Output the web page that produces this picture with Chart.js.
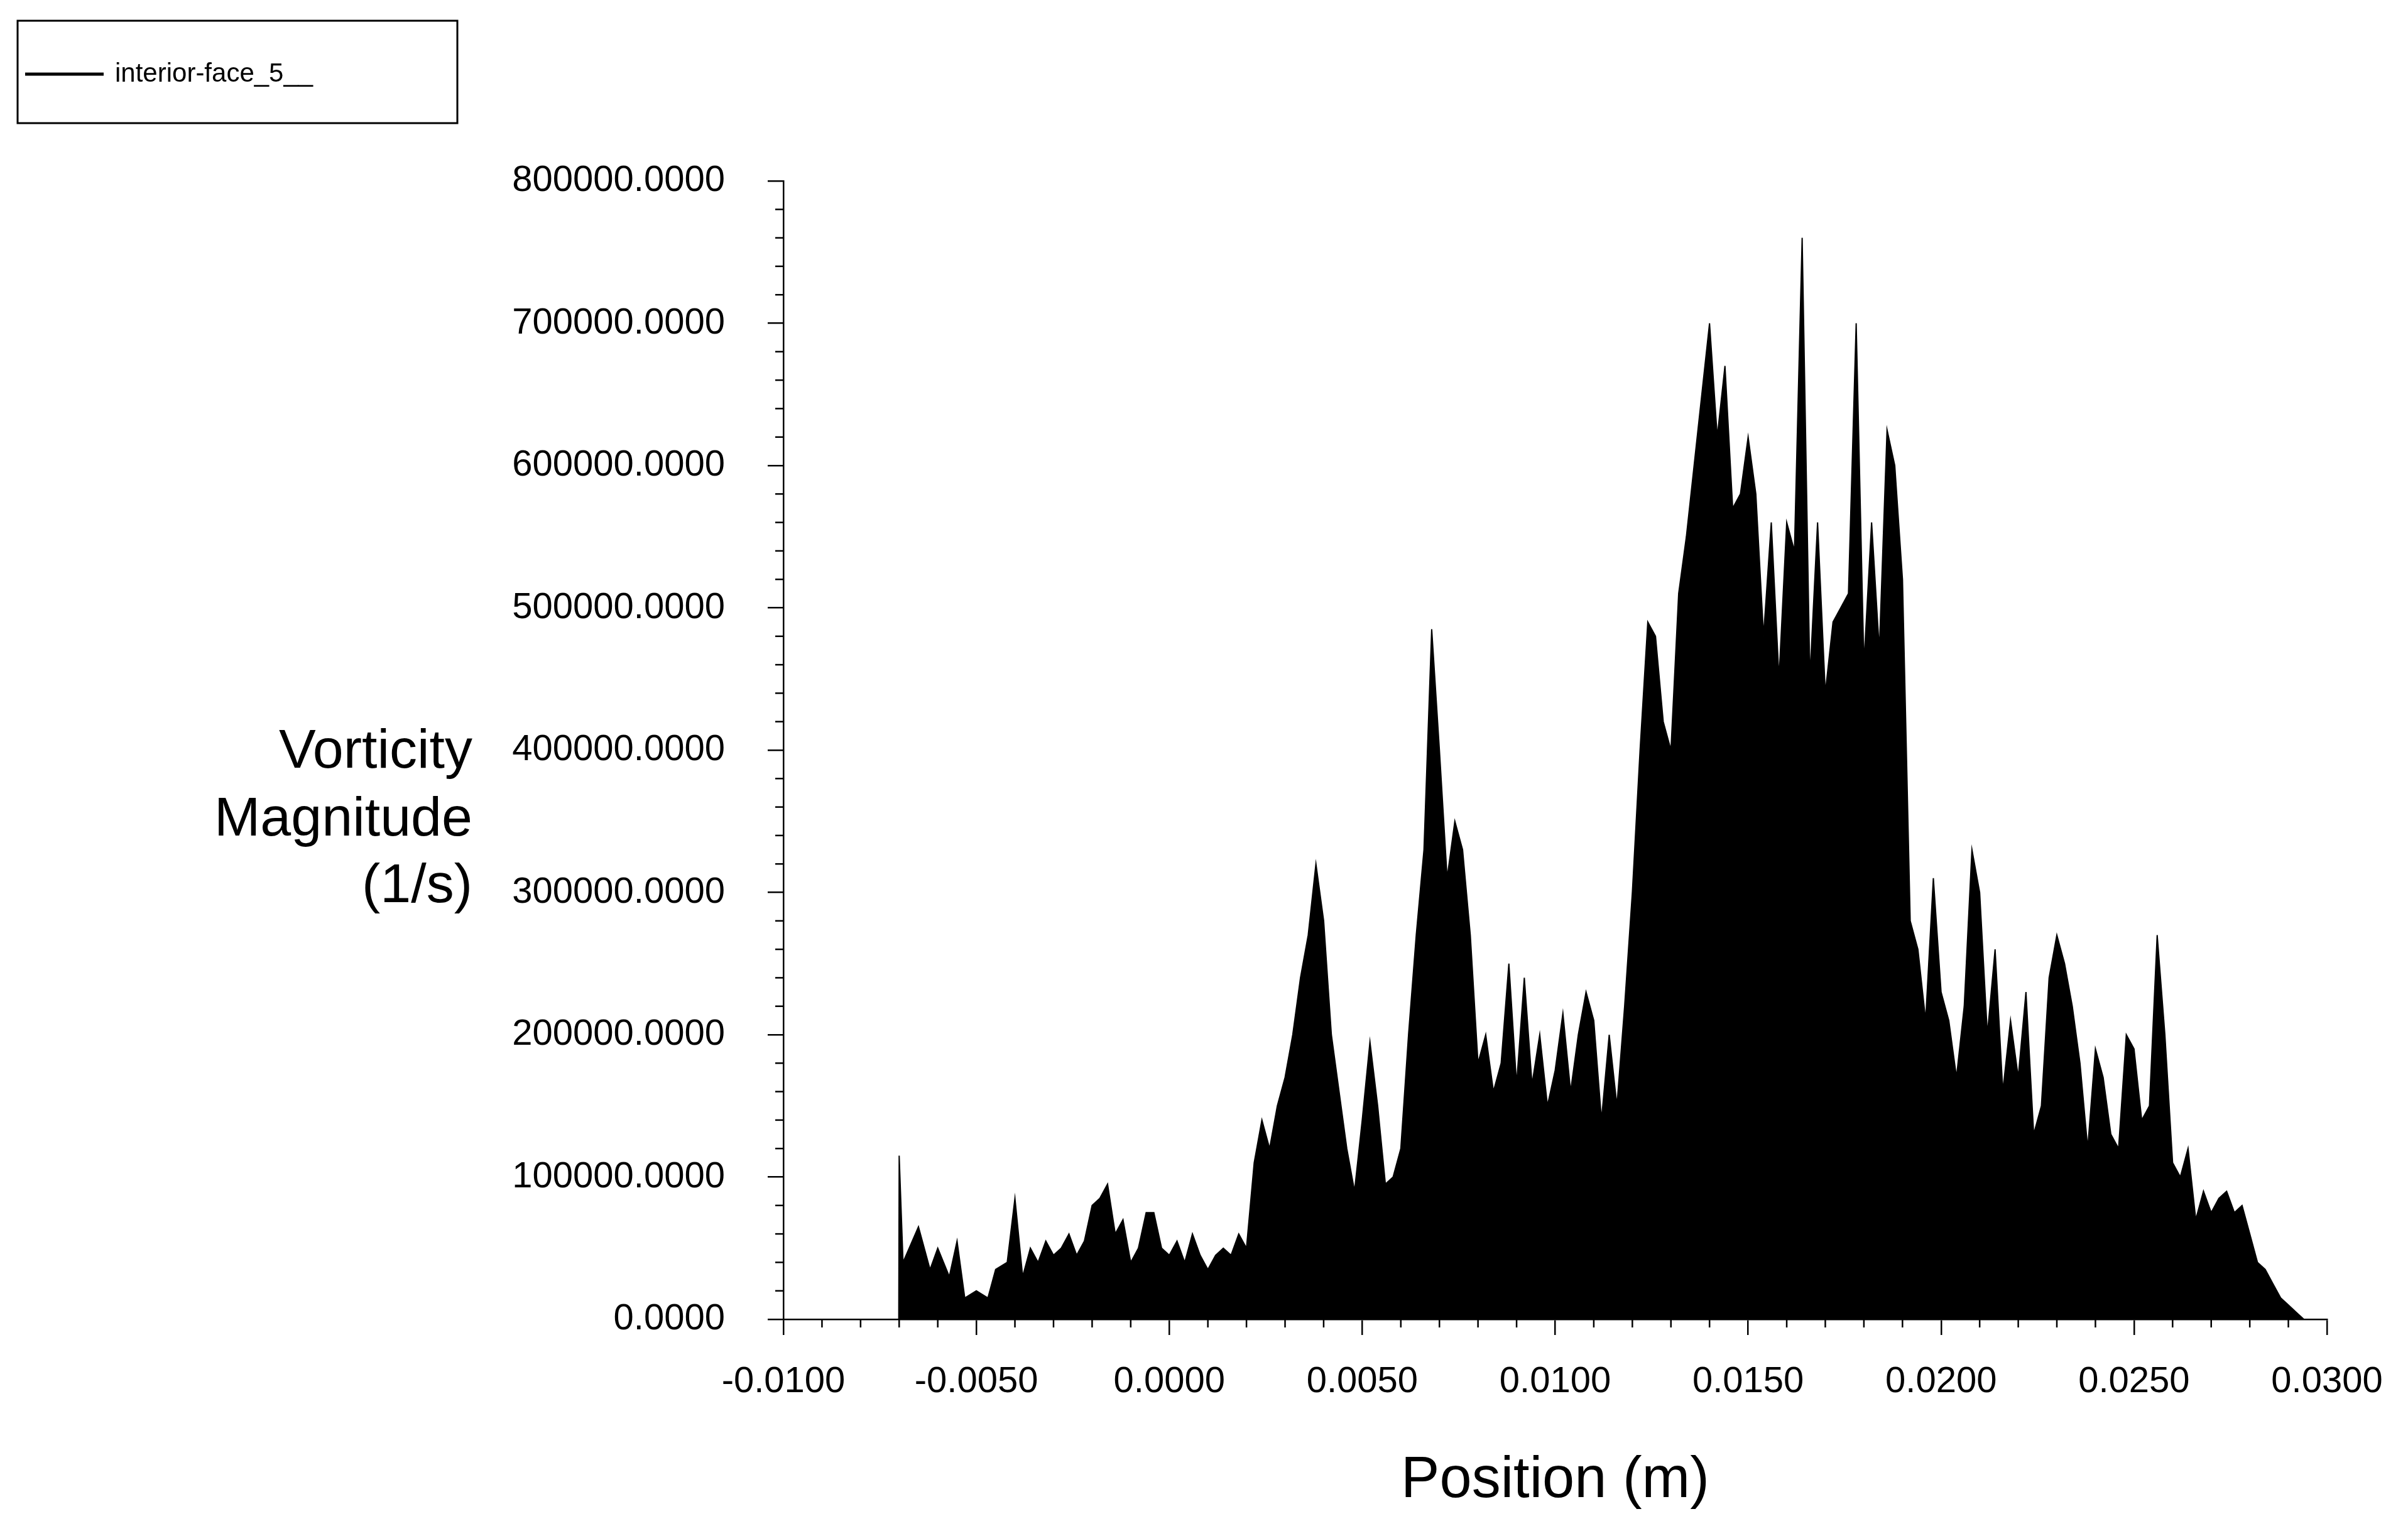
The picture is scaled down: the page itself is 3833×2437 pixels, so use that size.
<!DOCTYPE html>
<html><head><meta charset="utf-8">
<script src="https://cdn.jsdelivr.net/npm/chart.js@4"></script>
<style>html,body{margin:0;padding:0;background:#fff}#w{width:3833px;height:2437px}</style>
</head><body><div id="w"><canvas id="c"></canvas></div>
<script>
const seriesName = "interior-face_5__";
const xTitle = "Position (m)";
const yTitleLines = ["Vorticity", "Magnitude", "(1/s)"];
const positions = [-0.0100,-0.00701,-0.0070,-0.0069,-0.0065,-0.0062,-0.0060,-0.0057,-0.0055,-0.0053,-0.0050,-0.0047,-0.0045,-0.0042,-0.0040,-0.0038,-0.0036,-0.0034,-0.0032,-0.0030,-0.0028,-0.0026,-0.0024,-0.0022,-0.0020,-0.0018,-0.0016,-0.0014,-0.0012,-0.0010,-0.0008,-0.0006,-0.0004,-0.0002,0.0000,0.0002,0.0004,0.0006,0.0008,0.0010,0.0012,0.0014,0.0016,0.0018,0.0020,0.0022,0.0024,0.0026,0.0028,0.0030,0.0032,0.0034,0.0036,0.0038,0.0040,0.0042,0.0044,0.0046,0.0048,0.0050,0.0052,0.0054,0.0056,0.0058,0.0060,0.0062,0.0064,0.0066,0.0068,0.0070,0.0072,0.0074,0.0076,0.0078,0.0080,0.0082,0.0084,0.0086,0.0088,0.0090,0.0092,0.0094,0.0096,0.0098,0.0100,0.0102,0.0104,0.0106,0.0108,0.0110,0.0112,0.0114,0.0116,0.0118,0.0120,0.0122,0.0124,0.0126,0.0128,0.0130,0.0132,0.0134,0.0136,0.0138,0.0140,0.0142,0.0144,0.0146,0.0148,0.0150,0.0152,0.0154,0.0156,0.0158,0.0160,0.0162,0.0164,0.0166,0.0168,0.0170,0.0172,0.0174,0.0176,0.0178,0.0180,0.0182,0.0184,0.0186,0.0188,0.0190,0.0192,0.0194,0.0196,0.0198,0.0200,0.0202,0.0204,0.0206,0.0208,0.0210,0.0212,0.0214,0.0216,0.0218,0.0220,0.0222,0.0224,0.0226,0.0228,0.0230,0.0232,0.0234,0.0236,0.0238,0.0240,0.0242,0.0244,0.0246,0.0248,0.0250,0.0252,0.0254,0.0256,0.0258,0.0260,0.0262,0.0264,0.0266,0.0268,0.0270,0.0272,0.0274,0.0276,0.0278,0.0280,0.0282,0.0284,0.0286,0.0288,0.0290,0.0292,0.0294];
const vorticityK = [0,0,115,40,65,35,50,30,55,15,20,15,35,40,85,30,50,40,55,45,50,60,45,55,80,85,95,60,70,40,50,75,75,50,45,55,40,60,45,35,45,50,45,60,50,110,140,120,150,170,200,240,270,320,280,200,160,120,90,140,195,150,95,100,120,200,270,330,485,400,310,350,330,270,180,200,160,180,250,165,240,165,200,150,175,215,160,200,230,210,140,200,150,220,300,400,490,480,420,400,510,550,600,650,700,620,670,570,580,620,580,480,560,450,560,540,760,450,560,440,490,500,510,700,460,560,470,625,600,520,280,260,210,310,230,210,170,220,330,300,200,260,160,210,170,230,130,150,240,270,250,220,180,120,190,170,130,120,200,190,140,150,270,200,110,100,120,70,90,75,85,90,75,80,60,40,35,25,15,10,5,0];
const xTicks = {min:-0.01, max:0.03, step:0.005};
const yTicks = {min:0, max:800000, step:100000};

const pts = positions.map((x,i)=>({x:x, y:vorticityK[i]*1000}));
const FONT = "'Liberation Sans', Arial, sans-serif";

const deco = {
  id:'deco',
  afterDraw(ch){
    const c = ch.ctx, xs = ch.scales.x, ys = ch.scales.y;
    c.save();
    c.strokeStyle='#000'; c.lineWidth=2.5;
    // minor ticks
    for(let v=0; v<=800000; v+=20000){ if(v%100000===0) continue;
      const y=ys.getPixelForValue(v); c.beginPath(); c.moveTo(xs.left-13,y); c.lineTo(xs.left,y); c.stroke(); }
    for(let v=-0.01; v<=0.03001; v+=0.001){ const r=Math.round(v*1000); if(r%5===0) continue;
      const x=xs.getPixelForValue(v); c.beginPath(); c.moveTo(x,ys.bottom); c.lineTo(x,ys.bottom+13); c.stroke(); }
    // y title
    c.fillStyle='#000'; c.font='88px '+FONT; c.textAlign='right'; c.textBaseline='middle';
    const ly=[1198,1306,1412];
    yTitleLines.forEach((t,i)=>c.fillText(t,752,ly[i]));
    // x title
    c.textAlign='center'; c.font='92px '+FONT;
    c.fillText(xTitle,(xs.left+xs.right)/2,2358);
    // legend
    c.lineWidth=3; c.strokeRect(28,33,700,163);
    c.lineWidth=5; c.beginPath(); c.moveTo(40,118); c.lineTo(165,118); c.stroke();
    c.font='42px '+FONT; c.textAlign='left'; c.fillText(seriesName,183,118);
    c.restore();
  }
};

new Chart(document.getElementById('c'),{
  type:'line',
  data:{datasets:[{data:pts, borderColor:'#000', backgroundColor:'#000', borderWidth:2, pointRadius:0, fill:'origin', tension:0}]},
  options:{
    responsive:true, maintainAspectRatio:false, animation:false,
    devicePixelRatio:1,
    layout:{padding:{left:0,right:129,top:288,bottom:0}},
    plugins:{legend:{display:false},tooltip:{enabled:false}},
    scales:{
      x:{type:'linear', min:xTicks.min, max:xTicks.max,
        afterFit:s=>{s.height=337;},
        afterBuildTicks:s=>{const t=[];for(let i=0;i<=8;i++)t.push({value:+(xTicks.min+i*xTicks.step).toFixed(4)});s.ticks=t;},
        ticks:{color:'#000', font:{family:FONT,size:58}, padding:40, maxRotation:0, autoSkip:false, callback:v=>Number(v).toFixed(4)},
        grid:{drawOnChartArea:false, tickLength:25, color:'#000', lineWidth:2.5},
        border:{color:'#000', width:2.5}},
      y:{type:'linear', min:yTicks.min, max:yTicks.max,
        afterFit:s=>{s.width=1247;},
        ticks:{stepSize:yTicks.step, color:'#000', font:{family:FONT,size:58}, padding:68, callback:v=>Number(v).toFixed(4)},
        grid:{drawOnChartArea:false, tickLength:25, color:'#000', lineWidth:2.5},
        border:{color:'#000', width:2.5}}
    }
  },
  plugins:[deco]
});
</script></body></html>
